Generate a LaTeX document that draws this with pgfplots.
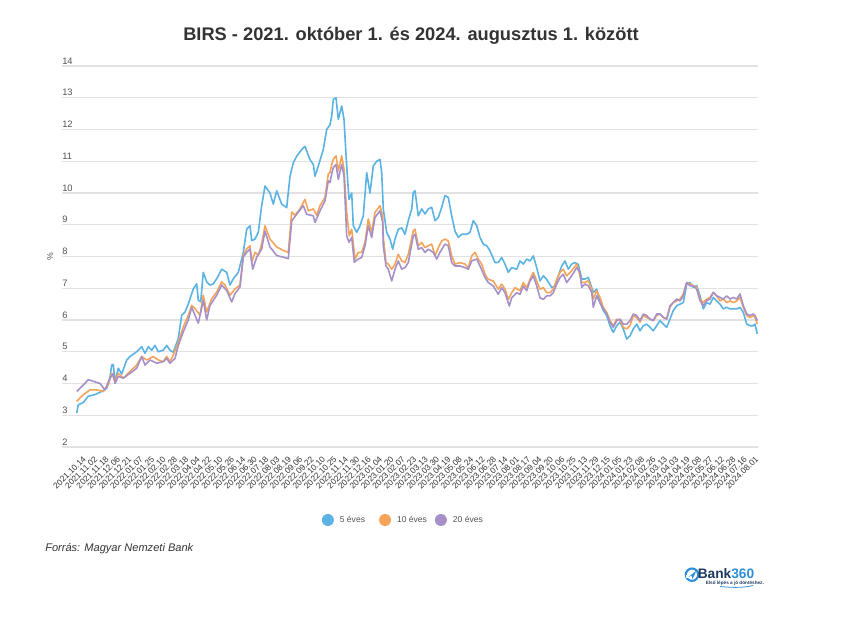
\documentclass[border=0pt]{standalone}
\usepackage{pgfplots}
\pgfplotsset{compat=1.18}
\usepackage{fontspec}
\setmainfont{Liberation Sans}
\definecolor{cblue}{HTML}{5BB3E3}
\definecolor{corange}{HTML}{F5A35A}
\definecolor{cpurple}{HTML}{A690C8}
\definecolor{cgrid}{HTML}{E2E2E2}
\definecolor{ctext}{HTML}{333333}
\definecolor{navy}{HTML}{1F3A5F}
\definecolor{logoblue}{HTML}{2E8FD8}
\begin{document}
\begin{tikzpicture}
\begin{axis}[
  scale only axis, width=522pt, height=285.75pt,
  xmin=62, xmax=758, ymin=2, ymax=14,
  axis line style={draw=none},
  major tick length=0pt,
  ymajorgrids, grid style={cgrid, line width=0.8pt},
  ytick={2,3,...,14},
  /pgf/number format/assume math mode=true,
  yticklabel style={anchor=south west, inner sep=0pt, yshift=1.2pt, font=\fontsize{7}{8}\selectfont, text=ctext!85},
  xtick={84.6,96.0,107.4,118.8,130.2,141.6,153.0,164.4,175.8,187.2,198.6,210.0,221.4,232.8,244.2,255.6,267.0,278.4,289.8,301.1,312.5,323.9,335.3,346.7,358.1,369.5,380.9,392.3,403.7,415.1,426.5,437.9,449.3,460.7,472.1,483.5,494.9,506.3,517.7,529.0,540.4,551.8,563.2,574.6,586.0,597.4,608.8,620.2,631.6,643.0,654.4,665.8,677.2,688.6,700.0,711.4,722.8,734.2,745.6,757.0},
  xticklabels={2021.10.14,2021.11.02,2021.11.18,2021.12.06,2021.12.21,2022.01.07,2022.01.25,2022.02.10,2022.02.28,2022.03.18,2022.04.04,2022.04.22,2022.05.10,2022.05.26,2022.06.14,2022.06.30,2022.07.18,2022.08.03,2022.08.19,2022.09.06,2022.09.22,2022.10.10,2022.10.25,2022.11.14,2022.11.30,2022.12.16,2023.01.04,2023.01.20,2023.02.07,2023.02.23,2023.03.13,2023.03.30,2023.04.19,2023.05.08,2023.05.24,2023.06.12,2023.06.28,2023.07.14,2023.08.01,2023.08.17,2023.09.04,2023.09.20,2023.10.06,2023.10.25,2023.11.13,2023.11.29,2023.12.15,2024.01.05,2024.01.23,2024.02.08,2024.02.26,2024.03.13,2024.04.03,2024.04.19,2024.05.08,2024.05.27,2024.06.12,2024.06.28,2024.07.16,2024.08.01},
  xticklabel style={yshift=-7.9pt, rotate=45, anchor=east, inner sep=0pt, font=\fontsize{6.3}{7}\selectfont, text=ctext},
  ylabel={\%},
  every axis y label/.style={at={(axis description cs:-0.0172,0.4987)}, rotate=90, anchor=center, font=\fontsize{6.5}{8}\selectfont, text=ctext!80},
  legend columns=3,
  legend style={at={(axis description cs:0.4914,-0.1916)}, anchor=center, draw=none, fill=none,
    font=\fontsize{6.4}{8}\selectfont, text=ctext!85,
    nodes={inner sep=2.5pt},
    /tikz/column 2/.style={column sep=8pt},
    /tikz/column 4/.style={column sep=3.5pt}},
  legend image code/.code={\fill[#1, draw=none] (4.5pt,0pt) circle (4.5pt); \path[draw=none, fill=none] (0pt,0pt) rectangle (11pt,0.1pt);},
  every axis plot/.append style={line width=1.2pt, line join=round},
]
\addplot[cblue] coordinates {(76.7,3.07)(78.3,3.33)(83.3,3.4)(88.3,3.6)(95,3.65)(101.7,3.75)(106.7,3.85)(110,4.2)(111.7,4.58)(113.3,4.6)(115,4.06)(118.3,4.48)(121.7,4.3)(126.7,4.74)(130,4.85)(136.7,5.0)(141.7,5.16)(145,4.95)(148.3,5.16)(151.7,5.05)(155,5.2)(158.3,5.0)(163.3,5.05)(166.7,5.2)(170,5.05)(173.3,4.98)(178.3,5.42)(181.7,6.15)(185,6.25)(188.3,6.5)(193.3,6.98)(196.7,7.14)(198.3,6.62)(200.7,6.57)(203.3,7.5)(206.7,7.2)(210,7.1)(213.3,7.14)(216.7,7.3)(221.7,7.6)(226.7,7.5)(230,7.1)(233.3,7.3)(238.3,7.5)(243.3,8.13)(246.7,8.86)(250,8.97)(251.7,8.5)(255,8.55)(258.3,8.76)(261.7,9.6)(265,10.22)(270,10.0)(273.3,9.65)(276.7,10.07)(281.7,9.65)(286.7,9.54)(290,10.53)(293.3,10.95)(296.7,11.16)(301.7,11.37)(305,11.47)(310,11.05)(313.3,10.9)(315,10.53)(318.3,10.85)(323.3,11.37)(326.7,12.0)(330,12.15)(331.7,12.42)(333.3,12.95)(336,13.0)(338.3,12.32)(341.7,12.74)(344,12.32)(346.7,10.85)(349,9.8)(351.7,10.0)(353.3,8.97)(356.7,8.76)(360,8.97)(363.3,9.28)(366.7,10.64)(370,10.0)(373.3,10.85)(376.7,11.0)(380,11.06)(381.7,10.64)(383.3,9.5)(386.7,8.76)(390,8.55)(392.7,8.23)(395,8.55)(398.3,8.86)(401.7,8.9)(405,8.7)(408.3,9.13)(411.7,9.5)(413.3,10.02)(415,10.07)(418.3,9.28)(421.7,9.5)(425,9.34)(428.3,9.5)(431.7,9.55)(435,9.13)(438.3,9.23)(441.7,9.55)(445,9.92)(448.3,9.86)(451.7,9.28)(455,8.8)(458.3,8.6)(461.7,8.7)(466.7,8.7)(470,8.76)(473.3,9.13)(476.7,8.97)(480,8.6)(483.3,8.39)(486.7,8.34)(490,8.18)(495,7.81)(498.3,7.81)(501.7,7.97)(505,7.76)(508.3,7.5)(511.7,7.65)(516.7,7.6)(520,7.86)(523.3,7.76)(526.7,7.92)(530,7.86)(533.3,8.02)(536.7,7.65)(540,7.23)(543.3,7.39)(546.7,7.28)(551.7,7.02)(555,7.07)(558.3,7.39)(561.7,7.7)(565,7.86)(568.3,7.6)(571.7,7.76)(575,7.81)(578.3,7.75)(581.7,7.29)(585,7.29)(588.3,7.34)(590,7.18)(593.3,6.87)(596.7,6.97)(600,6.55)(603.3,6.3)(606.7,6.14)(610,5.82)(613.3,5.61)(616.7,5.82)(620,5.93)(623.3,5.72)(626.7,5.4)(630,5.5)(633.3,5.72)(636.7,5.87)(640,5.66)(643.3,5.82)(646.7,5.87)(650,5.77)(653.3,5.66)(656.7,5.82)(660,5.98)(663.3,5.87)(666.7,5.77)(670,6.03)(673.3,6.3)(676.7,6.45)(680,6.5)(683.3,6.55)(686.7,7.13)(690,7.18)(693.3,7.03)(696.7,7.08)(700,6.76)(703.3,6.35)(706.7,6.55)(710,6.5)(713.3,6.71)(716.7,6.6)(720,6.5)(723.3,6.35)(726.7,6.4)(730,6.35)(733.3,6.35)(736.7,6.35)(740,6.4)(743.3,6.24)(746.7,5.87)(750,5.82)(753.3,5.82)(755,5.87)(757.3,5.56)};
\addlegendentry{5 éves}
\addplot[corange] coordinates {(76.7,3.44)(83.3,3.65)(90,3.8)(96.7,3.8)(103.3,3.75)(108.3,3.96)(111.7,4.32)(115,4.06)(118.3,4.32)(123.3,4.17)(130,4.38)(136.7,4.58)(141.7,4.85)(146.7,4.74)(153.3,4.85)(158.3,4.74)(163.3,4.69)(166.7,4.85)(170,4.69)(173.3,4.9)(178.3,5.3)(183.3,5.78)(188.3,6.15)(191.7,6.46)(195,6.36)(200,6.15)(203.3,6.78)(206.7,6.25)(211.7,6.67)(216.7,6.88)(221.7,7.2)(225,7.1)(230,6.78)(235,6.98)(240,7.1)(243.3,8.03)(246.7,8.24)(250,8.34)(251.7,7.82)(255,8.13)(258.3,8.03)(261.7,8.4)(265,8.97)(270,8.55)(276.7,8.3)(283.3,8.19)(288.3,8.13)(291.7,9.4)(295,9.3)(300,9.5)(305,9.8)(308.3,9.44)(313.3,9.5)(316.7,9.3)(320,9.6)(325,9.86)(328.3,10.6)(330,10.64)(331.7,10.9)(333.3,11.06)(336,11.17)(338.3,10.7)(341.7,11.17)(344,10.75)(346.7,9.39)(349.3,8.65)(351.7,8.86)(355,7.92)(358.3,8.13)(361.7,8.13)(365,8.45)(368.3,9.18)(371.7,8.76)(375,9.39)(380,9.6)(382.7,9.28)(383.3,8.6)(386,7.81)(388.3,7.76)(391.7,7.6)(395,7.76)(398.3,8.07)(401.7,7.86)(405,7.81)(408.3,8.07)(413.3,8.81)(415,8.86)(418.3,8.34)(421.7,8.44)(425,8.28)(428.3,8.34)(431.7,8.39)(435,8.02)(438.3,8.28)(441.7,8.49)(445,8.55)(448.3,8.49)(451.7,8.02)(455,7.76)(460,7.81)(465,7.76)(468.3,7.65)(471.7,8.02)(475,8.13)(478.3,7.92)(481.7,7.76)(485,7.44)(488.3,7.28)(493.3,7.23)(498.3,6.97)(501.7,7.13)(505,6.97)(508.3,6.65)(511.7,6.86)(515,7.02)(520,6.92)(523.3,7.18)(526.7,7.02)(530,7.28)(533.3,7.5)(536.7,7.23)(540,6.97)(543.3,7.02)(546.7,6.86)(550,6.86)(553.3,6.97)(556.7,7.28)(560,7.5)(563.3,7.6)(566.7,7.39)(571.7,7.55)(576.7,7.76)(578.3,7.6)(581.7,7.18)(585,7.18)(588.3,7.24)(591.7,6.97)(593.3,6.66)(596.7,6.92)(600,6.71)(603.3,6.4)(606.7,6.24)(610,5.98)(613.3,5.82)(616.7,6.03)(620,5.98)(623.3,5.77)(626.7,5.72)(630,5.82)(633.3,6.14)(636.7,6.08)(640,5.93)(643.3,6.14)(646.7,6.08)(650,6.03)(653.3,5.98)(656.7,6.14)(660,6.19)(663.3,6.08)(666.7,6.03)(670,6.4)(673.3,6.55)(676.7,6.6)(680,6.66)(683.3,6.82)(686.7,7.18)(690,7.13)(693.3,7.08)(696.7,7.03)(700,6.66)(703.3,6.55)(706.7,6.66)(710,6.71)(713.3,6.87)(716.7,6.76)(720,6.6)(723.3,6.66)(726.7,6.55)(730,6.6)(733.3,6.55)(736.7,6.6)(740,6.71)(743.3,6.4)(746.7,6.14)(750,6.08)(753.3,6.14)(755,6.08)(757.3,5.87)};
\addlegendentry{10 éves}
\addplot[cpurple] coordinates {(76.7,3.75)(81.7,3.9)(88.3,4.12)(93.3,4.07)(100,4.0)(105,3.8)(110,4.17)(113.3,4.32)(115,4.0)(118.3,4.22)(123.3,4.17)(130,4.32)(136.7,4.48)(141.7,4.85)(145,4.58)(150,4.74)(156.7,4.64)(163.3,4.69)(166.7,4.79)(170,4.64)(175,4.79)(178.3,5.2)(183.3,5.63)(188.3,6.0)(191.7,6.4)(195,6.15)(198.3,5.9)(203.3,6.62)(206.7,6.0)(210,6.46)(216.7,6.78)(221.7,7.1)(226.7,6.93)(231.7,6.57)(235,6.83)(240,7.04)(243.3,7.98)(246.7,8.13)(250,8.24)(252.7,7.6)(256.7,7.98)(261.7,8.24)(265,8.8)(270,8.3)(276.7,8.03)(283.3,7.98)(288.3,7.93)(291.7,9.12)(296.7,9.33)(303.3,9.6)(306.7,9.33)(313.3,9.28)(315,9.07)(320,9.44)(325,9.75)(328.3,10.38)(330,10.33)(331.7,10.6)(333.3,10.8)(336,10.9)(338.3,10.43)(341.7,10.9)(344,10.54)(346.7,8.65)(349,8.45)(351.7,8.6)(354.3,7.82)(358.3,7.92)(361.7,7.97)(365,8.34)(368.3,8.97)(371.7,8.6)(375,9.23)(380,9.44)(382.7,9.07)(383.3,8.34)(386,7.7)(388.3,7.6)(391.7,7.23)(395,7.6)(398.3,7.86)(401.7,7.6)(405,7.65)(408.3,7.81)(413.3,8.65)(415,8.7)(418.3,8.23)(421.7,8.28)(425,8.13)(428.3,8.23)(433.3,8.13)(436.7,7.92)(440,8.13)(445,8.39)(448.3,8.34)(451.7,7.81)(455,7.7)(460,7.7)(465,7.65)(468.3,7.6)(471.7,7.86)(476.7,7.92)(480,7.7)(485,7.34)(488.3,7.18)(493.3,7.07)(498.3,6.81)(501.7,7.02)(505,6.86)(509.3,6.44)(511.7,6.7)(516.7,6.86)(520,6.81)(523.3,7.07)(526.7,6.92)(530,7.23)(533.3,7.39)(536.7,7.07)(540,6.7)(543.3,6.65)(546.7,6.76)(550,6.76)(553.3,6.86)(556.7,7.13)(560,7.34)(563.3,7.44)(566.7,7.18)(571.7,7.39)(576.7,7.65)(580,7.5)(581.7,7.03)(585,7.13)(588.3,7.08)(591.7,6.87)(593.3,6.4)(596.7,6.76)(600,6.55)(603.3,6.35)(606.7,6.19)(610,5.93)(613.3,5.77)(616.7,5.98)(620,6.03)(623.3,5.87)(626.7,5.87)(630,5.98)(633.3,6.19)(636.7,6.14)(640,5.98)(643.3,6.19)(646.7,6.14)(650,6.03)(653.3,5.98)(656.7,6.19)(660,6.19)(663.3,6.08)(666.7,6.03)(670,6.45)(673.3,6.55)(676.7,6.66)(680,6.6)(683.3,6.76)(686.7,7.18)(690,7.08)(693.3,7.08)(696.7,6.97)(700,6.61)(703.3,6.45)(706.7,6.61)(710,6.66)(713.3,6.87)(716.7,6.76)(720,6.71)(723.3,6.66)(726.7,6.76)(730,6.66)(733.3,6.71)(736.7,6.66)(740,6.82)(743.3,6.45)(746.7,6.19)(750,6.14)(753.3,6.19)(755,6.14)(757.3,5.98)};
\addlegendentry{20 éves}
\end{axis}
\begin{scope}[x=0.75pt, y=-0.75pt, shift={(-46.5pt,335.25pt)}]
\path (0,0) rectangle (847,622);
\node[font=\fontsize{13.7}{16}\selectfont\bfseries, text=ctext] at (411,36) {BIRS - 2021. október 1. és 2024. augusztus 1. között};
\node[anchor=west, inner sep=0pt, font=\fontsize{8.3}{10}\selectfont\itshape, text=ctext] at (45,548.3) {Forrás: Magyar Nemzeti Bank};
\draw[logoblue, line width=1.6pt] (692,574.7) circle (6.2);
\fill[white] (686,575) rectangle (690,578);
\fill[logoblue] (688.5,577) -- (696.5,570.5) -- (692.5,579) -- (691.5,575.5) -- cycle;
\node[anchor=west, inner sep=0pt, font=\fontsize{10.3}{12}\selectfont\bfseries] at (697.5,573.5) {\textcolor{navy}{Bank}\textcolor{logoblue}{360}};
\node[anchor=west, inner sep=0pt, font=\fontsize{3.5}{4}\selectfont\bfseries, text=navy] at (705.5,583.5) {Első lépés a jó döntéshez.};
\draw[logoblue, line width=0.6pt] (720,586.5) .. controls (735,588) and (745,587.5) .. (753,585.5);
\end{scope}
\end{tikzpicture}
\end{document}
